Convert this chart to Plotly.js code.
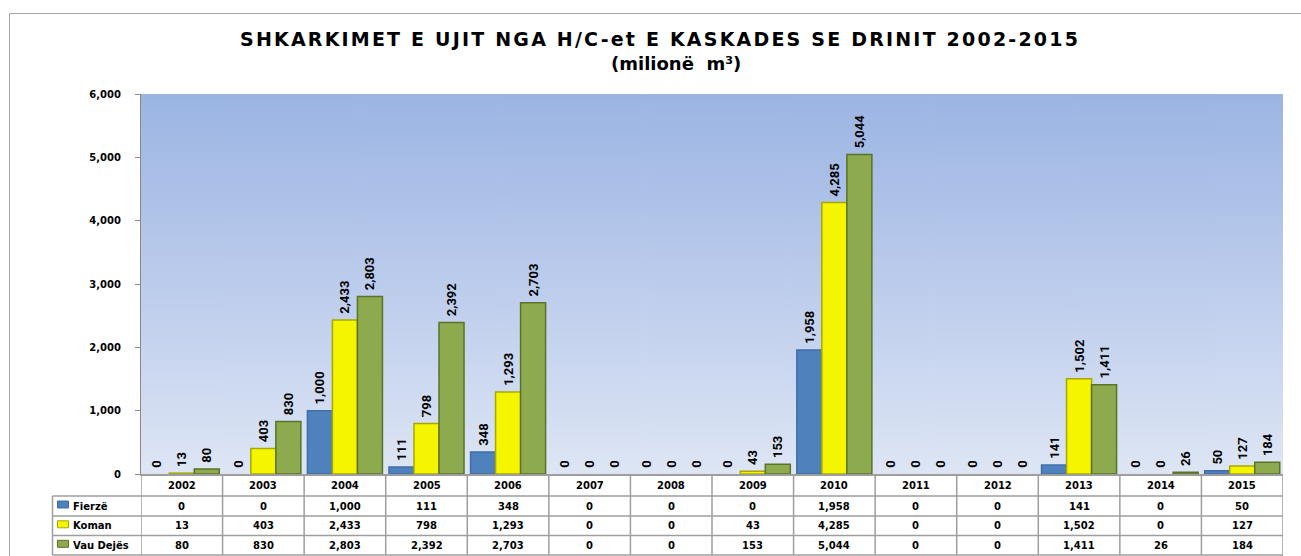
<!DOCTYPE html>
<html>
<head>
<meta charset="utf-8">
<script src="https://cdn.plot.ly/plotly-3.0.1.min.js"></script>
<style>html,body{margin:0;padding:0;background:#fff;}#chart{width:1301px;height:556px;}</style>
</head>
<body>
<div id="chart"></div>
<script>
// ---- data ----
const years = ['2002','2003','2004','2005','2006','2007','2008','2009','2010','2011','2012','2013','2014','2015'];
const seriesNames = ['Fierzë','Koman','Vau Dejës'];
const fierze = [0,0,1000,111,348,0,0,0,1958,0,0,141,0,50];
const koman = [13,403,2433,798,1293,0,0,43,4285,0,0,1502,0,127];
const vauDejes = [80,830,2803,2392,2703,0,0,153,5044,0,0,1411,26,184];
const yTicks = [0,1000,2000,3000,4000,5000,6000];
const titleLine1 = 'SHKARKIMET E UJIT NGA H/C-et E KASKADES SE DRINIT 2002-2015';
const titleLine2 = '(milionë  m³)';

// ---- styling / geometry ----
const W = 1301, H = 556, L = 141, R = 1283, T = 94, B = 474;
const px2x = p => (p - L) / (R - L);
const py2y = p => (B - p) / (B - T);
const fills = ['#4F81BD', '#F5F500', '#8EAA4E'];
const edges = ['#3F6FA8', '#A8A800', '#5B7229'];
const values = [fierze, koman, vauDejes];
const fmt = v => String(v).replace(/\B(?=(\d{3})+(?!\d))/g, ',');
const tblFont = {family: 'DejaVu Sans', size: 10, color: '#000', weight: 'bold'};
const lblFont = {family: 'Roboto', size: 13, color: '#000', weight: 'bold'};
const gridCol = '#9E9E9E';

const traces = values.map((vals, s) => ({
  type: 'bar',
  name: seriesNames[s],
  x: years,
  y: vals,
  marker: {color: fills[s], line: {color: edges[s], width: vals.map(v => (v ? 1.5 : 0))}},
  texttemplate: '\u00a0%{y:,}',
  textposition: 'outside',
  textangle: -90,
  constraintext: 'none',
  cliponaxis: false,
  outsidetextfont: lblFont,
  textfont: lblFont,
  hoverinfo: 'skip'
}));

// gradient background image
const cv = document.createElement('canvas');
cv.width = 8; cv.height = 380;
const cx = cv.getContext('2d');
const g = cx.createLinearGradient(0, 0, 0, 380);
g.addColorStop(0, '#9BB5E3');
g.addColorStop(0.5, '#BCCCEC');
g.addColorStop(1, '#DEE6F5');
cx.fillStyle = g; cx.fillRect(0, 0, 8, 380);

const shapes = [];
const annotations = [];
// outer frame
shapes.push({type: 'rect', xref: 'paper', yref: 'paper', x0: px2x(9.5), x1: px2x(1320), y0: py2y(13.5), y1: py2y(600),
  line: {color: '#A6A6A6', width: 1}, fillcolor: 'rgba(0,0,0,0)', layer: 'below'});

// table rows (pixel positions)
const rowLines = [496, 516, 535.5, 555];
const rowCenters = [506, 525.8, 545.3];
const headerCenter = 485.5;
const legendLeft = 52.5;
rowLines.forEach(p => shapes.push({type: 'line', xref: 'paper', yref: 'paper', x0: px2x(legendLeft), x1: 1, y0: py2y(p), y1: py2y(p), line: {color: gridCol, width: 1.5}}));
for (let i = 0; i <= years.length; i++) {
  shapes.push({type: 'line', xref: 'x', yref: 'paper', x0: i - 0.5, x1: i - 0.5, y0: py2y(B), y1: py2y(555), line: {color: gridCol, width: 1.5}});
}
shapes.push({type: 'line', xref: 'paper', yref: 'paper', x0: px2x(legendLeft), x1: px2x(legendLeft), y0: py2y(496), y1: py2y(555), line: {color: gridCol, width: 1.5}});

// header
years.forEach((y, i) => annotations.push({x: i, xref: 'x', y: py2y(headerCenter), yref: 'paper', text: y, showarrow: false, font: tblFont, xanchor: 'center', yanchor: 'middle'}));
// values
values.forEach((vals, s) => vals.forEach((v, i) => annotations.push({x: i, xref: 'x', y: py2y(rowCenters[s]), yref: 'paper', text: fmt(v), showarrow: false, font: tblFont, xanchor: 'center', yanchor: 'middle'})));
// legend column
seriesNames.forEach((n, s) => {
  const c = rowCenters[s];
  shapes.push({type: 'rect', xref: 'paper', yref: 'paper', x0: px2x(57.5), x1: px2x(68.5), y0: py2y(c - 5), y1: py2y(c + 2), fillcolor: fills[s], line: {color: edges[s], width: 1}});
  annotations.push({x: px2x(70.5), xref: 'paper', y: py2y(c), yref: 'paper', text: n, showarrow: false, font: tblFont, xanchor: 'left', yanchor: 'middle'});
});

// title as two annotations
annotations.push({xref: 'paper', yref: 'paper', x: px2x(660), y: py2y(39), text: '<span style="letter-spacing:2.2px">' + titleLine1 + '</span>', showarrow: false,
  font: {family: 'DejaVu Sans', size: 19, color: '#000', weight: 'bold'}, xanchor: 'center', yanchor: 'middle'});
annotations.push({xref: 'paper', yref: 'paper', x: px2x(676), y: py2y(64), text: titleLine2, showarrow: false,
  font: {family: 'DejaVu Sans', size: 18, color: '#000', weight: 'bold'}, xanchor: 'center', yanchor: 'middle'});

const layout = {
  width: W, height: H,
  margin: {l: L, r: W - R, t: T, b: H - B, pad: 0},
  paper_bgcolor: '#ffffff',
  plot_bgcolor: 'rgba(0,0,0,0)',
  showlegend: false,
  barmode: 'group',
  bargap: 0.08,
  bargroupgap: 0,
  xaxis: {type: 'category', range: [-0.5, years.length - 0.5], showticklabels: false, ticks: '', showgrid: false, zeroline: false,
    showline: true, linecolor: gridCol, linewidth: 1.5, fixedrange: true},
  yaxis: {range: [0, 6000], tickvals: yTicks, ticktext: yTicks.map(fmt), ticks: 'outside', ticklen: 5, tickcolor: '#888',
    tickfont: tblFont, ticklabelstandoff: 12, showgrid: false, zeroline: false, showline: true, linecolor: '#888', linewidth: 1, fixedrange: true},
  images: [{source: cv.toDataURL(), xref: 'paper', yref: 'paper', x: 0, y: 1, sizex: 1, sizey: 1, sizing: 'stretch', xanchor: 'left', yanchor: 'top', layer: 'below'}],
  shapes: shapes,
  annotations: annotations,
  hovermode: false
};

Plotly.newPlot('chart', traces, layout, {displayModeBar: false, staticPlot: true});
</script>
</body>
</html>
